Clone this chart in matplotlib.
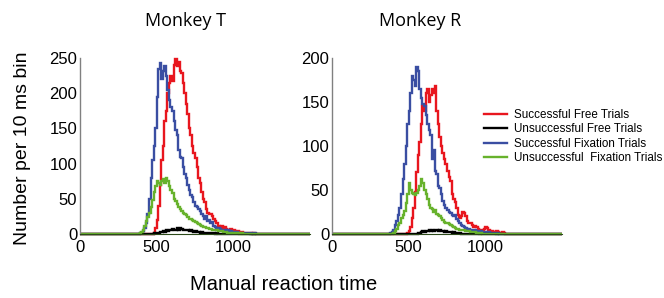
import numpy as np
import matplotlib
matplotlib.use('Agg')
from matplotlib import pyplot as plt

plt.rcParams['font.family'] = ['Liberation Sans', 'DejaVu Sans']

# histogram bins, 10 ms wide, 0..1500 ms
bin_width = 10
n_bins = 150

# Monkey T (counts per 10 ms bin, listed from a start time in ms)
t_free_ok_start = 470
t_free_ok = [0, 2, 8, 20, 40, 70, 105, 125, 160, 175, 200, 215, 225, 218, 240, 248, 238, 245,
             232, 228, 215, 200, 185, 170, 150, 140, 125, 115, 108, 95, 80, 72, 60, 50, 45, 35,
             30, 28, 28, 25, 22, 18, 15, 12, 10, 11, 8, 10, 7, 6, 5, 7, 5, 6, 4, 3, 4, 2, 3, 2,
             1, 2, 1, 1, 1, 0, 1]
t_free_fail_start = 480
t_free_fail = [1, 1, 2, 2, 3, 3, 4, 3, 5, 4, 6, 5, 7, 6, 5, 8, 6, 9, 7, 6, 5, 6, 5, 4, 5, 4, 3,
               4, 3, 3, 2, 3, 2, 2, 1, 2, 1, 1, 1, 1, 0, 1]
t_fix_ok_start = 380
t_fix_ok = [0, 1, 2, 4, 8, 15, 28, 50, 80, 105, 125, 150, 195, 235, 243, 220, 232, 238, 225,
            205, 190, 180, 175, 160, 148, 140, 120, 110, 108, 95, 85, 80, 70, 62, 55, 52, 45,
            40, 38, 35, 32, 28, 26, 22, 25, 18, 20, 16, 17, 12, 10, 8, 9, 7, 6, 5, 6, 4, 5, 3,
            4, 3, 3, 2, 3, 2, 2, 1, 2, 1, 1, 1, 1, 0, 1, 0, 1]
t_fix_fail_start = 390
t_fix_fail = [1, 3, 6, 12, 18, 24, 30, 38, 48, 60, 68, 75, 72, 70, 75, 78, 73, 80, 75, 68, 62,
              58, 50, 47, 42, 38, 35, 33, 30, 28, 27, 24, 22, 21, 20, 18, 17, 15, 14, 13, 12,
              10, 10, 9, 8, 7, 7, 6, 6, 5, 5, 4, 4, 4, 3, 3, 3, 2, 2, 2, 2, 2, 1, 1, 1, 0, 1]

# Monkey R
r_free_ok_start = 490
r_free_ok = [1, 3, 8, 18, 30, 48, 70, 90, 105, 125, 145, 140, 160, 165, 150, 158, 165, 160,
             168, 140, 125, 110, 100, 92, 85, 80, 72, 65, 60, 45, 40, 36, 30, 22, 18, 20, 25,
             24, 20, 15, 12, 12, 10, 8, 9, 8, 6, 5, 5, 4, 6, 8, 7, 5, 3, 3, 2, 2, 3, 2, 1, 1,
             2, 1]
r_free_fail_start = 560
r_free_fail = [1, 1, 2, 3, 2, 3, 3, 4, 3, 4, 3, 4, 5, 3, 4, 3, 3, 2, 3, 2, 2, 2, 1, 2, 1, 1,
               1, 1]
r_fix_ok_start = 380
r_fix_ok = [1, 2, 5, 10, 15, 22, 30, 45, 62, 80, 100, 125, 140, 160, 180, 175, 168, 190, 185,
            165, 155, 148, 145, 135, 125, 118, 112, 85, 95, 72, 68, 55, 52, 45, 38, 33, 30, 27,
            25, 24, 22, 20, 22, 17, 15, 12, 10, 9, 8, 7, 6, 6, 5, 4, 5, 4, 3, 3, 2, 3, 2, 2, 2,
            1, 2, 1, 1, 1, 1, 0, 1]
r_fix_fail_start = 400
r_fix_fail = [1, 3, 6, 10, 13, 18, 22, 26, 35, 45, 58, 50, 47, 45, 44, 47, 50, 55, 62, 58, 50,
              46, 40, 33, 30, 28, 25, 27, 23, 22, 20, 18, 16, 14, 13, 12, 11, 10, 9, 8, 7, 6, 6,
              5, 5, 4, 4, 3, 3, 3, 2, 2, 2, 2, 1, 1, 0, 1]

labels = ['Successful Free Trials', 'Unsuccessful Free Trials',
          'Successful Fixation Trials', 'Unsuccessful  Fixation Trials']
colors = ['#e8161e', '#000000', '#3a4ea2', '#67b22c']


def pad(start, vals):
    counts = np.zeros(n_bins)
    i0 = start // bin_width
    counts[i0:i0 + len(vals)] = vals
    return counts


edges = np.arange(n_bins + 1) * bin_width

panels = [
    ('Monkey T', 250, 185, [(t_free_ok_start, t_free_ok), (t_free_fail_start, t_free_fail),
                            (t_fix_ok_start, t_fix_ok), (t_fix_fail_start, t_fix_fail)]),
    ('Monkey R', 200, 420, [(r_free_ok_start, r_free_ok), (r_free_fail_start, r_free_fail),
                            (r_fix_ok_start, r_fix_ok), (r_fix_fail_start, r_fix_fail)]),
]

fig = plt.figure(figsize=(6.64, 2.98), dpi=100)
axes = [fig.add_axes([80 / 664, 64 / 298, 230 / 664, 176 / 298]),
        fig.add_axes([332 / 664, 64 / 298, 230 / 664, 176 / 298])]

handles = []
draw_order = [0, 2, 1, 3]
for ax, (title, ymax, title_x, series) in zip(axes, panels):
    lines = {}
    for k in draw_order:
        start, vals = series[k]
        h = ax.stairs(pad(start, vals), edges, color=colors[k], lw=1.7, clip_on=False)
        lines[k] = h
    if not handles:
        handles = [lines[k] for k in range(4)]
    ax.set_xlim(0, 1500)
    ax.set_ylim(0, ymax)
    ax.set_xticks([0, 500, 1000])
    ax.set_yticks(np.arange(0, ymax + 1, 50))
    ax.tick_params(length=0, pad=2, labelsize=12)
    ax.tick_params(axis='x', pad=4)
    for s in ['top', 'right']:
        ax.spines[s].set_visible(False)
    ax.spines['left'].set_color('#808080')
    ax.spines['left'].set_linewidth(1.0)
    ax.spines['bottom'].set_color('#2c4a1a')
    fig.text(title_x / 664, 1 - 21 / 298, title, ha='center', va='center',
             fontsize=13, family=['Open Sans', 'DejaVu Sans'])

fig.text(23 / 664, 1 - 148 / 298, 'Number per 10 ms bin', rotation=90,
         ha='center', va='center', fontsize=14)
fig.text(284 / 664, 1 - 285 / 298, 'Manual reaction time', ha='center', va='center',
         fontsize=14.5)

fig.legend(handles, labels, loc='upper left', bbox_to_anchor=(484 / 664, 1 - 109 / 298),
           frameon=False, fontsize=8.4, handlelength=2.0, handletextpad=0.6,
           labelspacing=0.2, borderaxespad=0, borderpad=0)

plt.savefig('out.png', dpi=100)
